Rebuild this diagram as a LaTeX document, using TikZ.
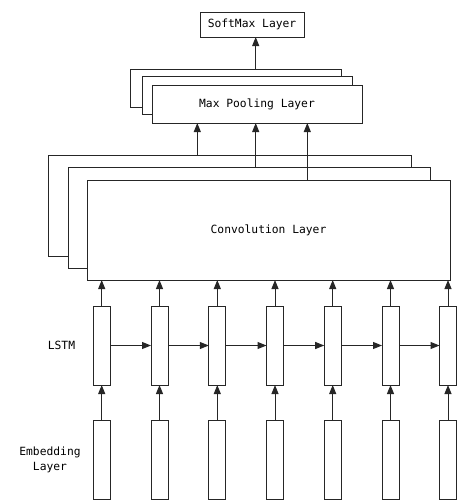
\documentclass[tikz,border=0pt]{standalone}
\usepackage{fontspec}
\setmainfont{DejaVu Sans Mono}
\usetikzlibrary{arrows.meta}
\begin{document}
\begin{tikzpicture}[x=1pt,y=-1pt,
  box/.style={draw=black!85,line width=1pt,fill=white,inner sep=0pt,outer sep=0pt},
  cell/.style={box,minimum width=17pt,minimum height=79pt},
  arr/.style={draw=black!85,line width=1pt,-{Triangle[length=9pt,width=7pt]}},
  lbl/.style={align=center},
  every node/.style={font=\fontsize{11.3pt}{15.5pt}\selectfont}]
\useasboundingbox (0,0) rectangle (463,501);
% SoftMax
\node[box,minimum width=104pt,minimum height=25pt] (sm) at (252,24.5) {SoftMax Layer};
% Max pooling
\node[box,minimum width=211pt,minimum height=38pt] (mpb) at (235.5,88) {};
\node[box,minimum width=210pt,minimum height=38pt] (mpm) at (247,95) {};
\node[box,minimum width=210pt,minimum height=38pt] (mpf) at (257,104) {Max Pooling Layer};
% Convolution
\node[box,minimum width=363pt,minimum height=101pt] (cb) at (229.5,205.5) {};
\node[box,minimum width=362pt,minimum height=101pt] (cm) at (249,217.5) {};
\node[box,minimum width=363pt,minimum height=100pt] (cf) at (268.5,230) {Convolution Layer};
% connectors conv -> max pooling
\coordinate (p1) at (197.3,155);
\coordinate (p2) at (255.7,167.5);
\coordinate (p3) at (307.3,180);
\draw[arr] (p1) -- (p1 |- mpf.south);
\draw[arr] (p2) -- (p2 |- mpf.south);
\draw[arr] (p3) -- (p3 |- mpf.south);
% max pooling -> softmax
\coordinate (s1) at (255.7,69);
\draw[arr] (s1) -- (s1 |- sm.south);
% LSTM and embedding columns
\foreach \i/\x in {1/101.7,2/159.5,3/217.3,4/275,5/332.7,6/390.5,7/448}{
  \node[cell] (l\i) at (\x,345.5) {};
  \node[cell] (e\i) at (\x,459.5) {};
  \draw[arr] (e\i.north) -- (l\i.south);
  \draw[arr] (l\i.north) -- (l\i.north |- cf.south);
}
\foreach \i/\j in {1/2,2/3,3/4,4/5,5/6,6/7}{
  \draw[arr] (l\i.east) -- (l\j.west);
}
\node[lbl] (lstm) at (61.5,345.5) {LSTM};
\node[lbl] (emb) at (50,460) {Embedding\\Layer};
\end{tikzpicture}
\end{document}
